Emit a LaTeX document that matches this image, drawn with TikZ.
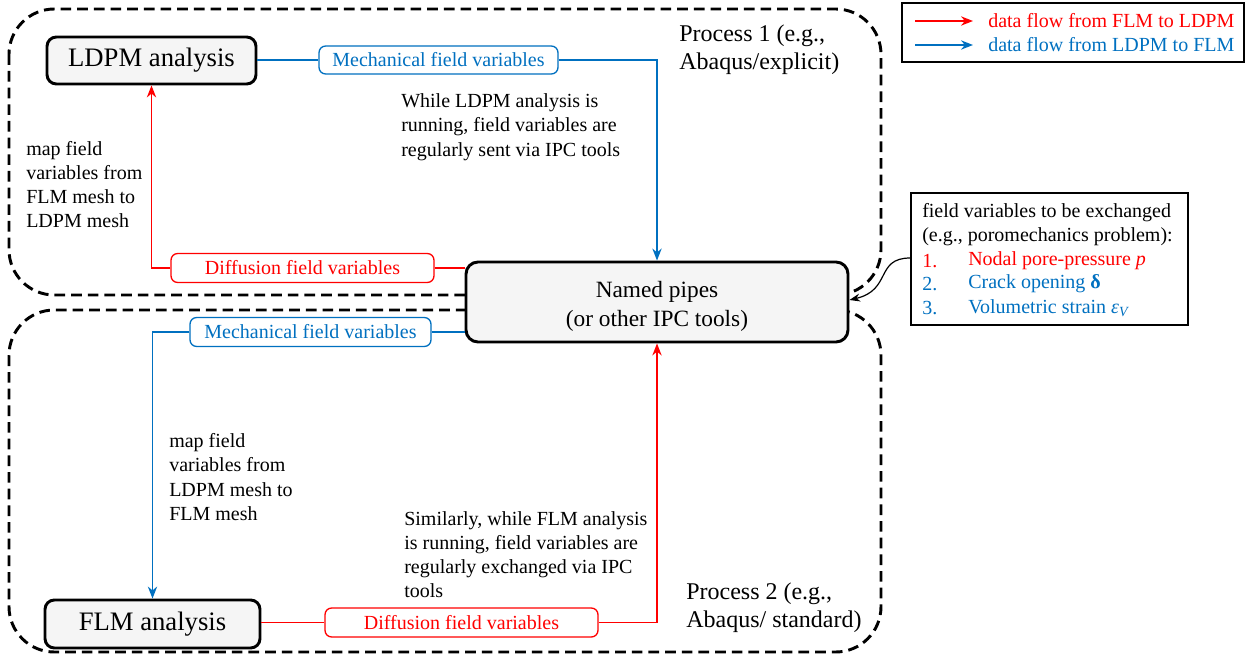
\documentclass[tikz,border=0pt]{standalone}
\usepackage{fontspec}
\setmainfont{Liberation Serif}
\usetikzlibrary{arrows.meta,calc}
\definecolor{myblue}{RGB}{0,112,192}
\definecolor{myred}{RGB}{255,0,0}
\definecolor{boxfill}{RGB}{245,245,245}
\begin{document}
\begin{tikzpicture}[x=0.75pt,y=-0.75pt,
  procbox/.style={draw=black, line width=2.2pt, dash pattern=on 8pt off 4.5pt, rounded corners=34pt},
  mainbox/.style={draw=black, line width=2.2pt, fill=boxfill, rounded corners=7pt, inner sep=0pt, align=center},
  varbox/.style={draw=#1, text=#1, line width=1pt, rounded corners=5pt, fill=white, inner sep=0pt, font=\fontsize{15}{18}\selectfont},
  flow/.style={draw=#1, line width=1.1pt},
  tipa/.style={-{Stealth[length=9pt,width=7pt]}},
  line/.style={font=\fontsize{15}{18}\selectfont, inner sep=0pt, anchor=base west},
  proc/.style={font=\fontsize{18}{21.75}\selectfont, inner sep=0pt, anchor=base west},
  legtext/.style={font=\fontsize{15}{18}\selectfont, inner sep=0pt, anchor=west},
]
\useasboundingbox (0,0) rectangle (1250,656);

% process frames
\draw[procbox] (9,9) rectangle (881,295);
\draw[procbox] (9,310) rectangle (881,652);

% main boxes
\node[mainbox, minimum width=156.75pt, minimum height=35.25pt, font=\fontsize{20}{24}\selectfont] (ldpm) at (151.5,60.5) {LDPM analysis};
\node[mainbox, minimum width=161.25pt, minimum height=36pt, font=\fontsize{20}{24}\selectfont] (flm) at (152.5,624) {FLM analysis};
\node[mainbox, minimum width=286.5pt, minimum height=60pt, rounded corners=9pt] (pipes) at (657,302) {};
\node[align=center, inner sep=0pt, font=\fontsize{17.5}{21.75}\selectfont] (pipestext) at (657,306) {Named pipes\\(or other IPC tools)};

% variable boxes
\node[varbox=myblue, minimum width=179.25pt, minimum height=21pt] (mech1) at (438.5,60) {Mechanical field variables};
\node[varbox=myred, minimum width=197.25pt, minimum height=21.75pt] (diff1) at (302.5,268) {Diffusion field variables};
\node[varbox=myblue, minimum width=180.75pt, minimum height=21.75pt] (mech2) at (310.5,332) {Mechanical field variables};
\node[varbox=myred, minimum width=204.75pt, minimum height=21.75pt] (diff2) at (461.5,622.5) {Diffusion field variables};

% connectors
\draw[flow=myblue] (ldpm.east |- mech1.west) -- (mech1.west);
\draw[flow=myblue, tipa] (mech1.east) -| (pipes.north);
\draw[flow=myred] (diff1.east) -- (diff1.east -| pipes.west);
\draw[flow=myred, tipa] (diff1.west) -| (ldpm.south);
\draw[flow=myblue] (mech2.east) -- (mech2.east -| pipes.west);
\draw[flow=myblue, tipa] (mech2.west) -| (flm.north);
\draw[flow=myred] (flm.east |- diff2.west) -- (diff2.west);
\draw[flow=myred, tipa] (diff2.east) -| (pipes.south);

% process labels
\node[proc] (p1a) at (679,41.5) {Process 1 (e.g.,};
\node[proc] (p1b) at (679,70) {Abaqus/explicit)};
\node[proc] (p2a) at (686,599) {Process 2 (e.g.,};
\node[proc] (p2b) at (686,627) {Abaqus/ standard)};

% body texts
\node[line] (t1a) at (401,107.5) {While LDPM analysis is};
\node[line] (t1b) at (401,132) {running, field variables are};
\node[line] (t1c) at (401,156.5) {regularly sent via IPC tools};

\node[line] (t2a) at (26,156) {map field};
\node[line] (t2b) at (26,179.5) {variables from};
\node[line] (t2c) at (26,203.5) {FLM mesh to};
\node[line] (t2d) at (26,227.5) {LDPM mesh};

\node[line] (t3a) at (169,447) {map field};
\node[line] (t3b) at (169,471.5) {variables from};
\node[line] (t3c) at (169,496) {LDPM mesh to};
\node[line] (t3d) at (169,520) {FLM mesh};

\node[line] (t4a) at (404,525) {Similarly, while FLM analysis};
\node[line] (t4b) at (404,549) {is running, field variables are};
\node[line] (t4c) at (404,573.5) {regularly exchanged via IPC};
\node[line] (t4d) at (404,597) {tools};

% legend
\node[draw=black, line width=1.1pt, minimum width=256.5pt, minimum height=44.25pt, inner sep=0pt] (legend) at (1073,32.5) {};
\coordinate (la1) at (915,21); \coordinate (la2) at (973,21);
\coordinate (lb1) at (915,45); \coordinate (lb2) at (973,45);
\draw[flow=myred, tipa] (la1) -- (la2);
\draw[flow=myblue, tipa] (lb1) -- (lb2);
\node[legtext, text=myred] (lt1) at (988,21) {data flow from FLM to LDPM};
\node[legtext, text=myblue] (lt2) at (988,45) {data flow from LDPM to FLM};

% field variables box
\node[draw=black, line width=1.1pt, minimum width=207.75pt, minimum height=99pt, inner sep=0pt] (fv) at (1049.5,259) {};
\node[legtext] (f1) at (922,213) {field variables to be exchanged};
\node[legtext] (f2) at (922,237) {(e.g., poromechanics problem):};
\node[legtext, text=myred] (f3n) at (922,261) {1.};
\node[legtext, text=myred] (f3) at (968,261) {Nodal pore-pressure \textit{p}};
\node[legtext, text=myblue] (f4n) at (922,284) {2.};
\node[legtext, text=myblue] (f4) at (968,284) {Crack opening \textbf{δ}};
\node[legtext, text=myblue] (f5n) at (922,308) {3.};
\node[legtext, text=myblue] (f5) at (968,308) {Volumetric strain \textit{ε\textsubscript{V}}};

\draw[line width=0.9pt, -{Stealth[length=8pt,width=6pt]}] (fv.west |- 0,258) .. controls (875,258) and (892,290) .. (pipes.east |- 0,300);
\end{tikzpicture}
\end{document}
